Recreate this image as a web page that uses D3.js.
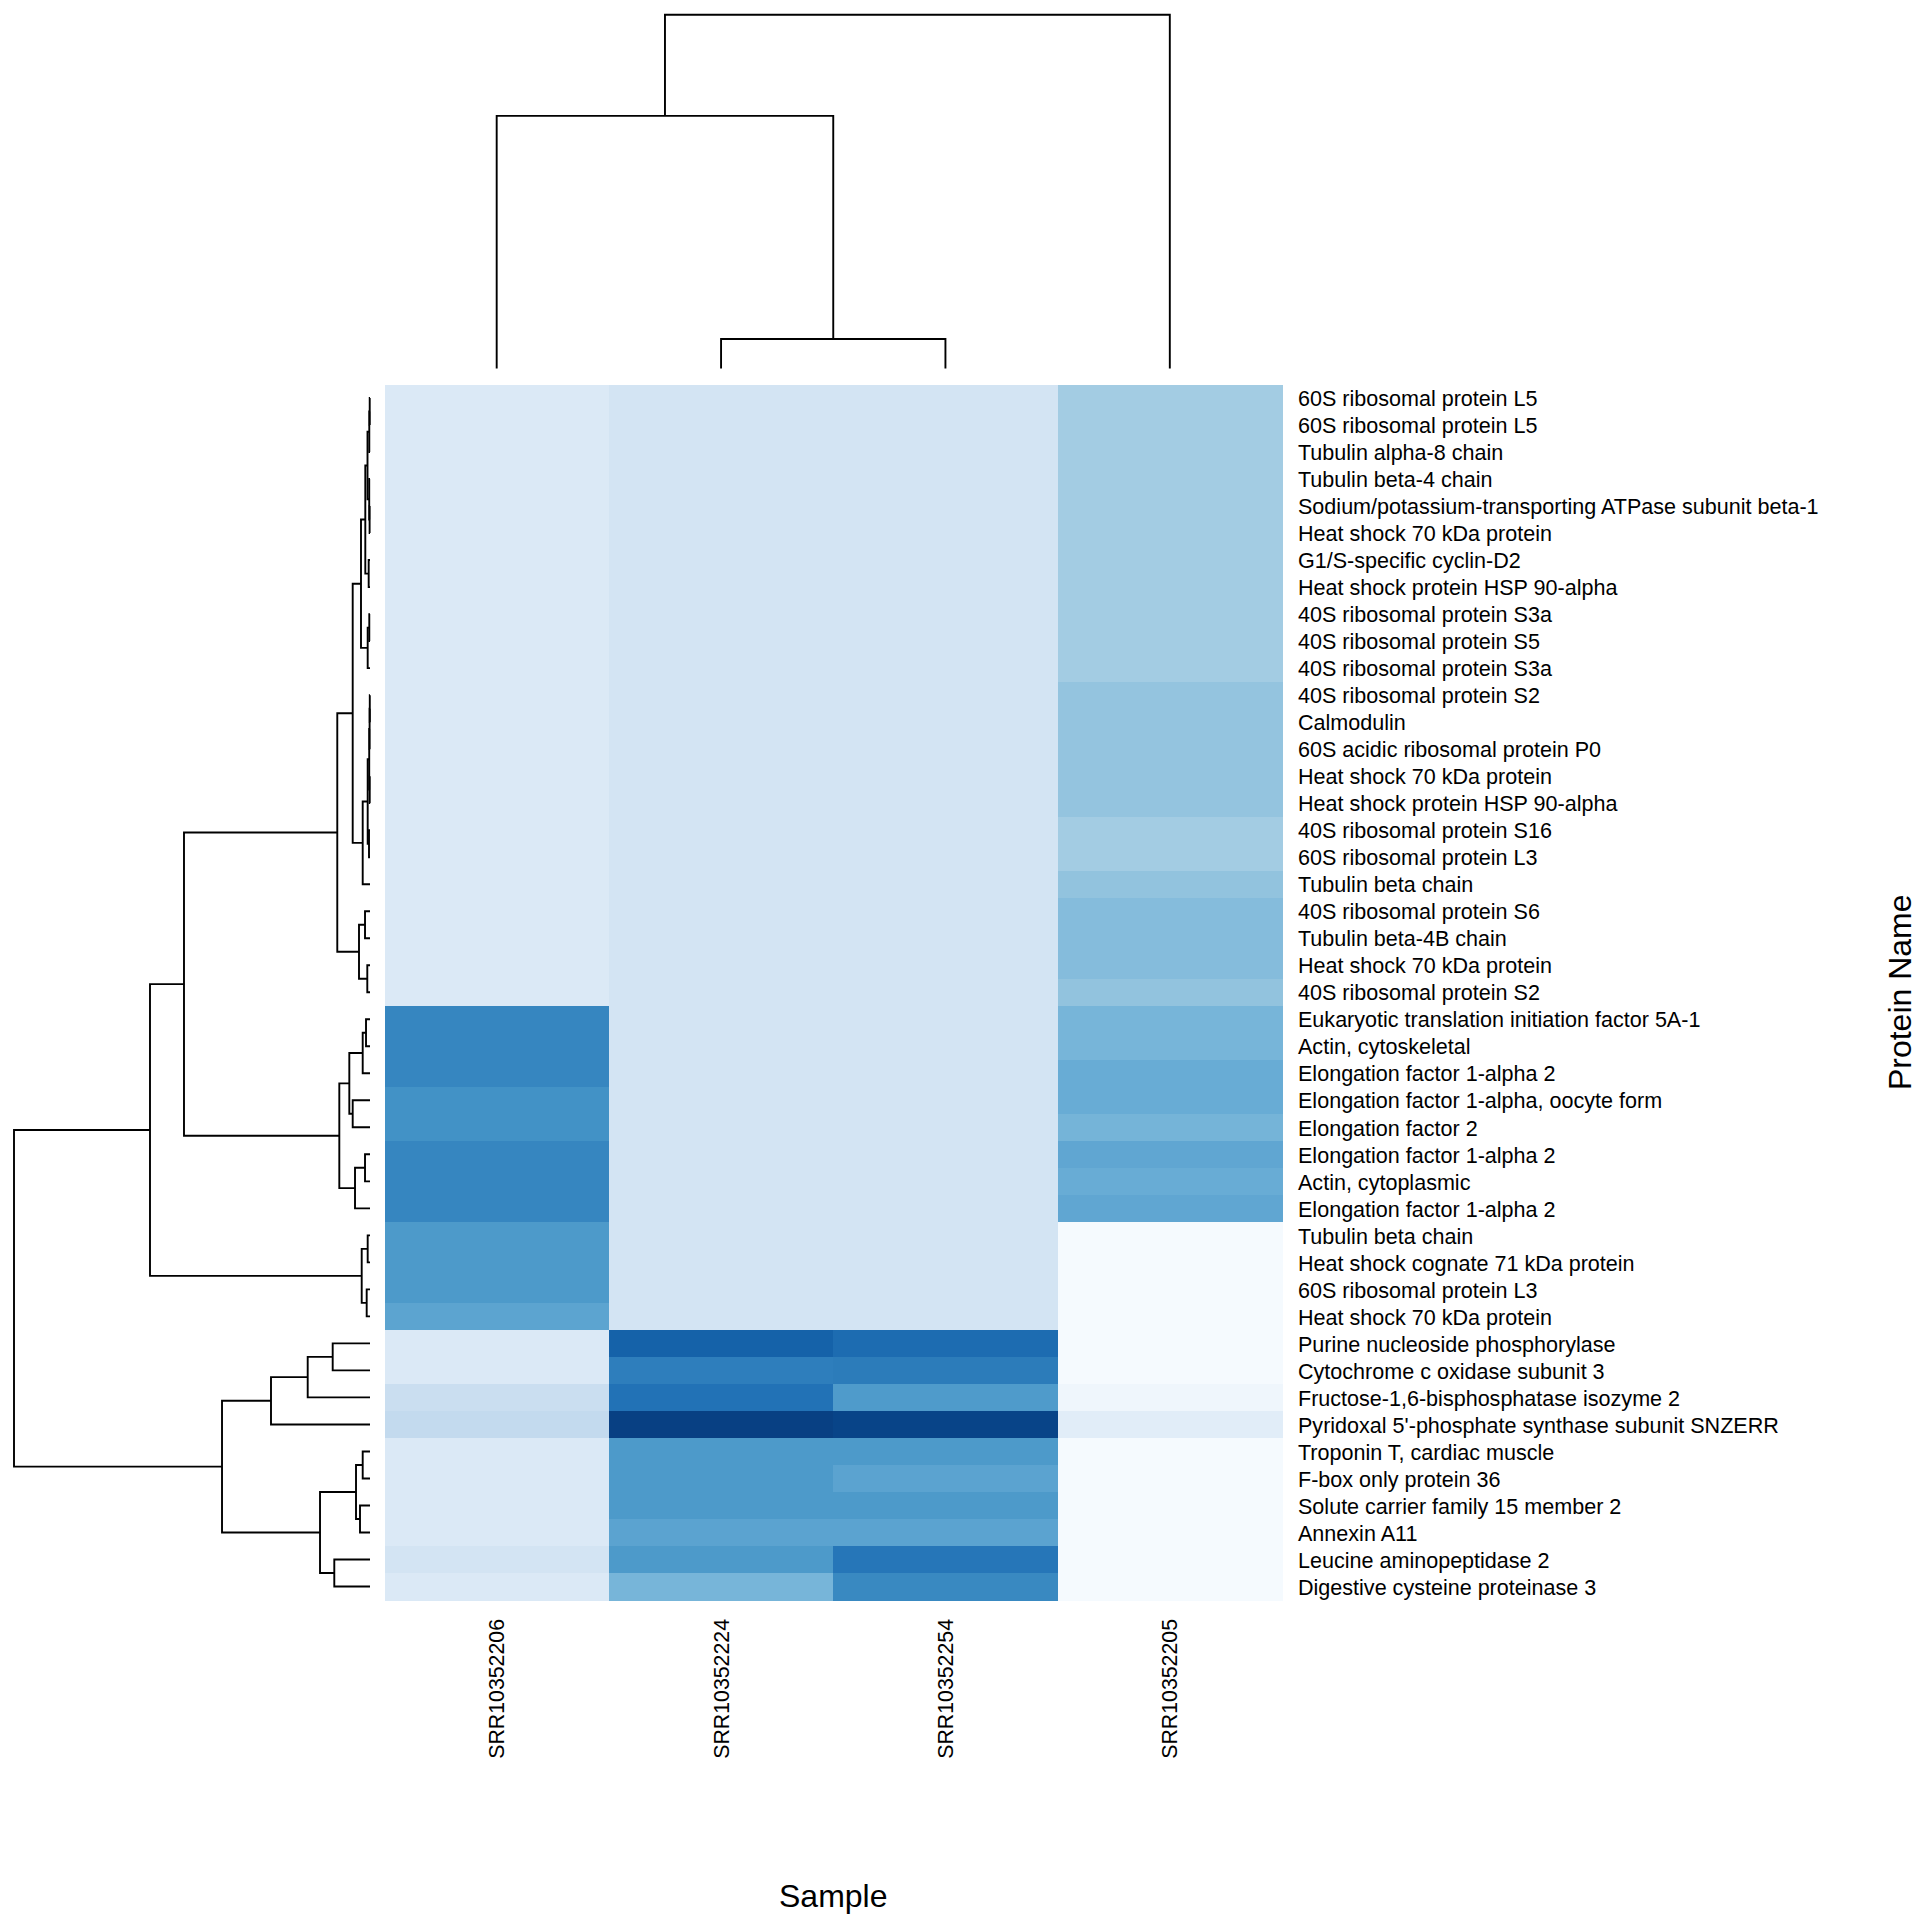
<!DOCTYPE html>
<html>
<head>
<meta charset="utf-8">
<script src="https://cdn.jsdelivr.net/npm/d3@7"></script>
<style>
  body { margin: 0; background: #ffffff; }
  svg { display: block; }
  text { font-family: "Liberation Sans", Arial, sans-serif; fill: #000; }
</style>
</head>
<body>
<svg id="chart" width="1920" height="1920"></svg>
<script>
// ---------------- DATA ----------------
const samples = ["SRR10352206", "SRR10352224", "SRR10352254", "SRR10352205"];

const proteins = [
  "60S ribosomal protein L5",
  "60S ribosomal protein L5",
  "Tubulin alpha-8 chain",
  "Tubulin beta-4 chain",
  "Sodium/potassium-transporting ATPase subunit beta-1",
  "Heat shock 70 kDa protein",
  "G1/S-specific cyclin-D2",
  "Heat shock protein HSP 90-alpha",
  "40S ribosomal protein S3a",
  "40S ribosomal protein S5",
  "40S ribosomal protein S3a",
  "40S ribosomal protein S2",
  "Calmodulin",
  "60S acidic ribosomal protein P0",
  "Heat shock 70 kDa protein",
  "Heat shock protein HSP 90-alpha",
  "40S ribosomal protein S16",
  "60S ribosomal protein L3",
  "Tubulin beta chain",
  "40S ribosomal protein S6",
  "Tubulin beta-4B chain",
  "Heat shock 70 kDa protein",
  "40S ribosomal protein S2",
  "Eukaryotic translation initiation factor 5A-1",
  "Actin, cytoskeletal",
  "Elongation factor 1-alpha 2",
  "Elongation factor 1-alpha, oocyte form",
  "Elongation factor 2",
  "Elongation factor 1-alpha 2",
  "Actin, cytoplasmic",
  "Elongation factor 1-alpha 2",
  "Tubulin beta chain",
  "Heat shock cognate 71 kDa protein",
  "60S ribosomal protein L3",
  "Heat shock 70 kDa protein",
  "Purine nucleoside phosphorylase",
  "Cytochrome c oxidase subunit 3",
  "Fructose-1,6-bisphosphatase isozyme 2",
  "Pyridoxal 5'-phosphate synthase subunit SNZERR",
  "Troponin T, cardiac muscle",
  "F-box only protein 36",
  "Solute carrier family 15 member 2",
  "Annexin A11",
  "Leucine aminopeptidase 2",
  "Digestive cysteine proteinase 3"
];

// scaled abundance per sample (0..1), rows in displayed order
const valuesSRR10352206 = [
  0.14, 0.14, 0.14, 0.14, 0.14, 0.14, 0.14, 0.14, 0.14, 0.14, 0.14,
  0.14, 0.14, 0.14, 0.14, 0.14, 0.14, 0.14, 0.14, 0.14, 0.14, 0.14, 0.14,
  0.67, 0.67, 0.67, 0.625, 0.625, 0.67, 0.67, 0.67,
  0.59, 0.59, 0.59, 0.545,
  0.14, 0.14, 0.23, 0.26, 0.14, 0.14, 0.14, 0.14, 0.18, 0.14
];
const valuesSRR10352224 = [
  0.18, 0.18, 0.18, 0.18, 0.18, 0.18, 0.18, 0.18, 0.18, 0.18, 0.18,
  0.18, 0.18, 0.18, 0.18, 0.18, 0.18, 0.18, 0.18, 0.18, 0.18, 0.18, 0.18,
  0.18, 0.18, 0.18, 0.18, 0.18, 0.18, 0.18, 0.18,
  0.18, 0.18, 0.18, 0.18,
  0.81, 0.70, 0.745, 0.94, 0.59, 0.59, 0.59, 0.55, 0.59, 0.47
];
const valuesSRR10352254 = [
  0.18, 0.18, 0.18, 0.18, 0.18, 0.18, 0.18, 0.18, 0.18, 0.18, 0.18,
  0.18, 0.18, 0.18, 0.18, 0.18, 0.18, 0.18, 0.18, 0.18, 0.18, 0.18, 0.18,
  0.18, 0.18, 0.18, 0.18, 0.18, 0.18, 0.18, 0.18,
  0.18, 0.18, 0.18, 0.18,
  0.77, 0.71, 0.585, 0.925, 0.59, 0.55, 0.59, 0.55, 0.73, 0.66
];
const valuesSRR10352205 = [
  0.36, 0.36, 0.36, 0.36, 0.36, 0.36, 0.36, 0.36, 0.36, 0.36, 0.36,
  0.40, 0.40, 0.40, 0.40, 0.40, 0.36, 0.36, 0.405, 0.436, 0.436, 0.436, 0.405,
  0.47, 0.47, 0.51, 0.51, 0.475, 0.535, 0.51, 0.535,
  0.01, 0.01, 0.01, 0.01,
  0.01, 0.01, 0.04, 0.11, 0.01, 0.01, 0.01, 0.01, 0.01, 0.01
];

// Row linkage (leaves 0..44 in display order, new node ids start at 45): [childA, childB, distance]
const rowLinkage = [
  [0, 1, 0.008],    // 45
  [45, 2, 0.02],    // 46
  [4, 5, 0.011],    // 47
  [3, 47, 0.022],   // 48
  [46, 48, 0.07],   // 49
  [6, 7, 0.037],    // 50
  [49, 50, 0.132],  // 51
  [8, 9, 0.02],     // 52
  [52, 10, 0.065],  // 53
  [51, 53, 0.253],  // 54
  [11, 12, 0.006],  // 55
  [55, 13, 0.011],  // 56
  [14, 15, 0.008],  // 57
  [56, 57, 0.022],  // 58
  [16, 17, 0.028],  // 59
  [58, 59, 0.065],  // 60
  [60, 18, 0.205],  // 61
  [54, 61, 0.486],  // 62
  [19, 20, 0.14],   // 63
  [21, 22, 0.076],  // 64
  [63, 64, 0.309],  // 65
  [62, 65, 0.919],  // 66
  [23, 24, 0.112],  // 67
  [67, 25, 0.205],  // 68
  [26, 27, 0.486],  // 69
  [68, 69, 0.581],  // 70
  [28, 29, 0.14],   // 71
  [71, 30, 0.421],  // 72
  [70, 72, 0.862],  // 73
  [66, 73, 5.225],  // 74
  [31, 32, 0.065],  // 75
  [33, 34, 0.093],  // 76
  [75, 76, 0.233],  // 77
  [74, 77, 6.18],   // 78
  [35, 36, 1.048],  // 79
  [79, 37, 1.75],   // 80
  [80, 38, 2.781],  // 81
  [39, 40, 0.205],  // 82
  [41, 42, 0.281],  // 83
  [82, 83, 0.393],  // 84
  [43, 44, 1.003],  // 85
  [84, 85, 1.404],  // 86
  [81, 86, 4.157],  // 87
  [78, 87, 10.0]    // 88
];

// Column linkage (leaves 0..3 in display order, new ids from 4)
const colLinkage = [
  [1, 2, 0.836],  // 4
  [0, 4, 7.14],   // 5
  [5, 3, 10.0]    // 6
];

const axisTitleX = "Sample";
const axisTitleY = "Protein Name";

// ---------------- LAYOUT ----------------
const svg = d3.select("#chart");
const hm = { left: 384.5, right: 1282, top: 384.5, bottom: 1600 };

const x = d3.scaleBand().domain(d3.range(samples.length)).range([hm.left, hm.right]).padding(0);
const y = d3.scaleBand().domain(d3.range(proteins.length)).range([hm.top, hm.bottom]).padding(0);

// matplotlib "Blues"
const bluesStops = ["#f7fbff", "#deebf7", "#c6dbef", "#9ecae1", "#6baed6", "#4292c6", "#2171b5", "#08519c", "#08306b"];
const color = d3.scaleLinear()
  .domain(bluesStops.map((d, i) => i / (bluesStops.length - 1)))
  .range(bluesStops)
  .interpolate(d3.interpolateRgb)
  .clamp(true);

const columns = [valuesSRR10352206, valuesSRR10352224, valuesSRR10352254, valuesSRR10352205];
const cells = [];
columns.forEach((vals, ci) => vals.forEach((v, ri) => cells.push({ c: ci, r: ri, v })));

svg.append("g").selectAll("rect").data(cells).join("rect")
  .attr("x", d => x(d.c))
  .attr("y", d => y(d.r))
  .attr("width", x.bandwidth() + 0.5)
  .attr("height", y.bandwidth() + 0.5)
  .attr("fill", d => color(d.v))
  .attr("shape-rendering", "crispEdges");

// ---------------- DENDROGRAMS ----------------
function buildSegments(linkage, nLeaves, leafPos) {
  const pos = [], hgt = [];
  for (let i = 0; i < nLeaves; i++) { pos[i] = leafPos(i); hgt[i] = 0; }
  const segs = [];
  linkage.forEach((l, j) => {
    const [a, b, h] = l;
    const id = nLeaves + j;
    pos[id] = (pos[a] + pos[b]) / 2;
    hgt[id] = h;
    segs.push([[hgt[a], pos[a]], [h, pos[a]], [h, pos[b]], [hgt[b], pos[b]]]);
  });
  return segs;
}

// row dendrogram (left)
const rowH = d3.scaleLinear().domain([0, d3.max(rowLinkage, d => d[2])]).range([370, 14]);
const rowSegs = buildSegments(rowLinkage, proteins.length, i => y(i) + y.bandwidth() / 2);
const rowLine = d3.line().x(p => rowH(p[0])).y(p => p[1]);
svg.append("g").selectAll("path").data(rowSegs).join("path")
  .attr("d", rowLine)
  .attr("fill", "none")
  .attr("stroke", "#000")
  .attr("stroke-width", 1.9);

// column dendrogram (top)
const colH = d3.scaleLinear().domain([0, d3.max(colLinkage, d => d[2])]).range([368.6, 14.7]);
const colSegs = buildSegments(colLinkage, samples.length, i => x(i) + x.bandwidth() / 2);
const colLine = d3.line().x(p => p[1]).y(p => colH(p[0]));
svg.append("g").selectAll("path").data(colSegs).join("path")
  .attr("d", colLine)
  .attr("fill", "none")
  .attr("stroke", "#000")
  .attr("stroke-width", 1.9);

// ---------------- AXES ----------------
const tickFont = 21.55;

const yAxis = d3.axisRight(y).tickSize(0).tickPadding(16).tickFormat(i => proteins[i]);
const gy = svg.append("g").attr("transform", `translate(${hm.right},0)`).call(yAxis);
gy.select(".domain").remove();
gy.selectAll("text")
  .style("font-size", tickFont + "px")
  .style("font-family", '"Liberation Sans", Arial, sans-serif')
  .attr("fill", "#000")
  .attr("dy", "0.38em");

const xAxis = d3.axisBottom(x).tickSize(0).tickPadding(0).tickFormat(i => samples[i]);
const gx = svg.append("g").attr("transform", `translate(0,${hm.bottom})`).call(xAxis);
gx.select(".domain").remove();
gx.selectAll("text")
  .style("font-size", "21.3px")
  .style("font-family", '"Liberation Sans", Arial, sans-serif')
  .attr("fill", "#000")
  .attr("transform", "rotate(-90)")
  .attr("text-anchor", "end")
  .attr("x", -19)
  .attr("y", 0)
  .attr("dy", "0.36em");

// axis titles
svg.append("text")
  .attr("x", (hm.left + hm.right) / 2)
  .attr("y", 1906.5)
  .attr("text-anchor", "middle")
  .style("font-size", "32px")
  .text(axisTitleX);

svg.append("text")
  .attr("transform", `translate(1911,${(hm.top + hm.bottom) / 2}) rotate(-90)`)
  .attr("text-anchor", "middle")
  .style("font-size", "32px")
  .text(axisTitleY);
</script>
</body>
</html>
